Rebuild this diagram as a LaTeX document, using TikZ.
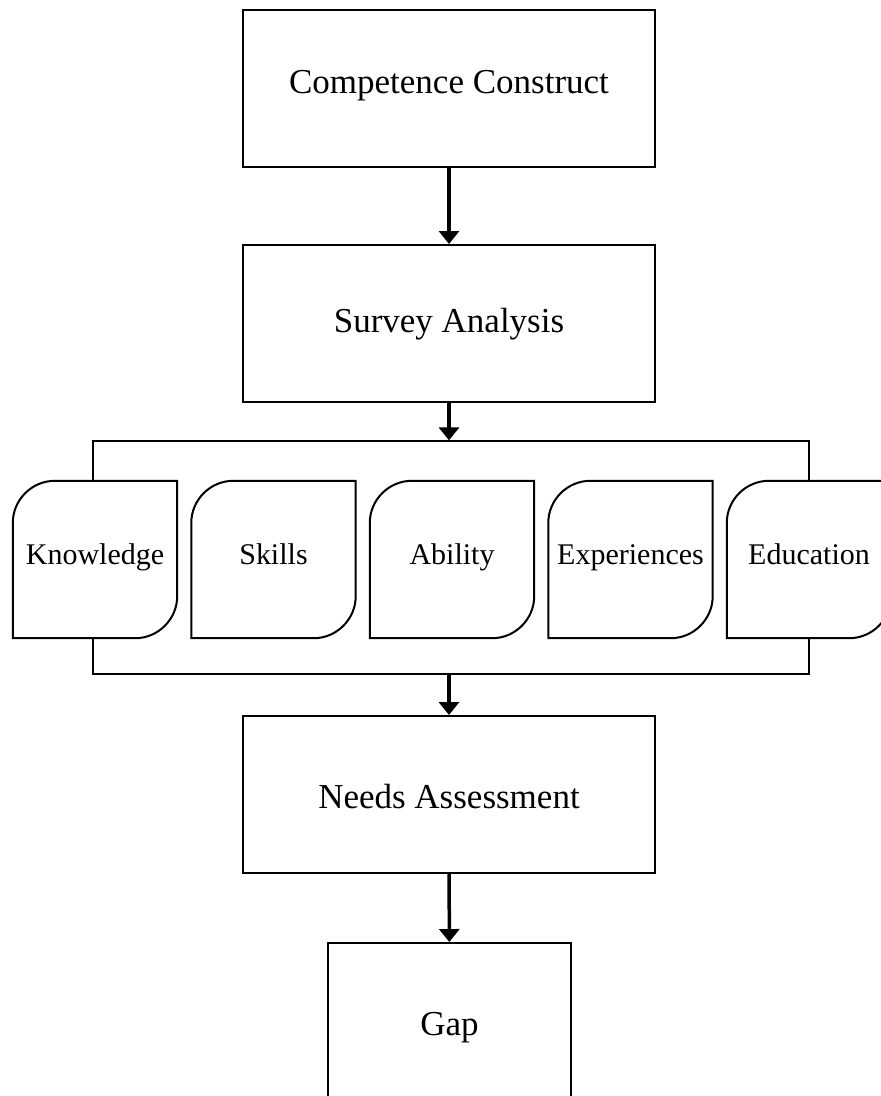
\documentclass[tikz,border=0pt]{standalone}
\usepackage{fontspec}
\setmainfont{Liberation Serif}
\usetikzlibrary{arrows.meta,backgrounds}

\tikzset{
  mainbox/.style={draw, line width=2pt, fill=white, minimum width=412pt, minimum height=157pt, inner sep=0pt, text height=24pt, text depth=15pt, font=\fontsize{35}{40}\selectfont},
  card/.style={minimum width=164pt, minimum height=157pt, inner sep=0pt, text height=20pt, text depth=11pt, font=\fontsize{30}{36}\selectfont},
  cardline/.style={draw, fill=white, line width=2pt},
  grpline/.style={draw, line width=1.3pt, minimum width=716pt, minimum height=233pt, inner sep=0pt},
  flow/.style={line width=3.5pt, -{Triangle[width=20pt,length=13pt]}}
}

\begin{document}
\begin{tikzpicture}[x=1pt,y=-1pt]
\clip (0,0) rectangle (881,1096);

\node[mainbox] (cc) at (449,88.5) {Competence Construct};
\node[mainbox, text height=28pt, text depth=11pt] (sa) at (449,323.5) {Survey Analysis};

\foreach \n/\x/\t in {kn/95/Knowledge, sk/273.5/Skills, ab/452/Ability, ex/630.5/Experiences, ed/809/Education}
  \node[card] (\n) at (\x,559.5) {\t};

\node[mainbox, text height=33pt, text depth=6pt] (na) at (449,794.5) {Needs Assessment};
\node[mainbox, minimum width=243pt, minimum height=172pt, text height=26pt, text depth=14pt] (gap) at (449.5,1029) {Gap};

\begin{scope}[on background layer]
\node[grpline] (grp) at (451,557.5) {};
\foreach \n in {kn,sk,ab,ex,ed}
  \draw[cardline] (\n.south west) -- ([yshift=-42pt]\n.north west)
    .. controls ([yshift=-19pt]\n.north west) and ([xshift=19pt]\n.north west) .. ([xshift=42pt]\n.north west)
    -- (\n.north east) -- ([yshift=42pt]\n.south east)
    .. controls ([yshift=19pt]\n.south east) and ([xshift=-19pt]\n.south east) .. ([xshift=-42pt]\n.south east)
    -- cycle;
\end{scope}

\draw[flow] (cc) -- (sa);
\draw[flow] (sa) -- (sa.south |- grp.north);
\draw[flow] (na.north |- grp.south) -- (na);
\draw[flow] (na) -- (gap);
\end{tikzpicture}
\end{document}
